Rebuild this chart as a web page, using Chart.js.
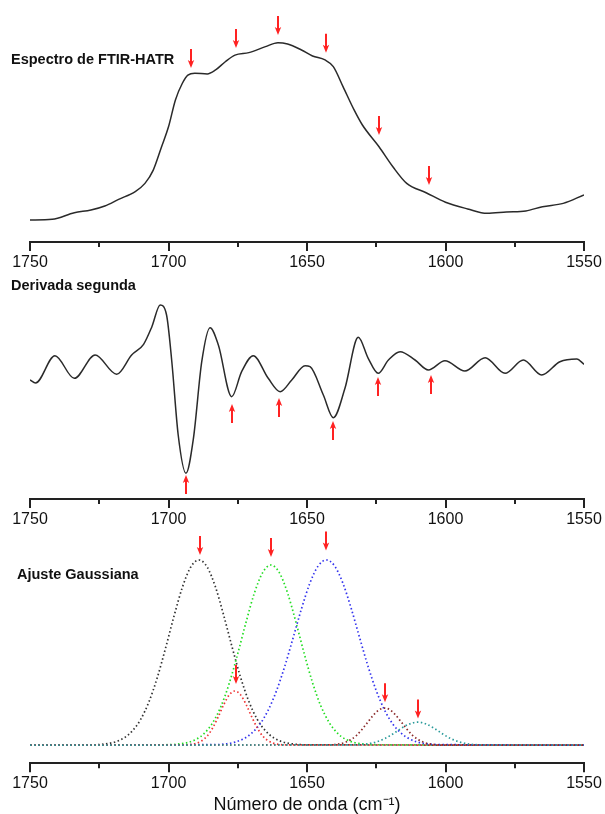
<!DOCTYPE html>
<html>
<head>
<meta charset="utf-8">
<script src="https://cdn.jsdelivr.net/npm/chart.js@4.4.1/dist/chart.umd.min.js"></script>
<style>
  html, body { margin: 0; padding: 0; background: #fff; overflow: hidden; }
  #wrap { position: relative; width: 605px; height: 814px; overflow: hidden; font-family: "Liberation Sans", Arial, sans-serif; }
  #wrap canvas { position: absolute; left: 0; }
  .panel-title { position: absolute; font-weight: bold; font-size: 14.5px; line-height: 16px; color: #111; white-space: nowrap; }
</style>
</head>
<body>
<div id="wrap">
  <canvas id="ftirChart" width="605" height="275" style="top:0px"></canvas>
  <canvas id="derivChart" width="605" height="258" style="top:275px"></canvas>
  <canvas id="gaussChart" width="605" height="296" style="top:520px"></canvas>
  <div class="panel-title" style="left:11px; top:51px">Espectro de FTIR-HATR</div>
  <div class="panel-title" style="left:11px; top:277px">Derivada segunda</div>
  <div class="panel-title" style="left:17px; top:566px">Ajuste Gaussiana</div>
</div>
<script>
// eje X (número de onda, cm-1)
const tickValues = [1750, 1725, 1700, 1675, 1650, 1625, 1600, 1575, 1550];

// espectro FTIR-HATR
const ftirWave = [1750, 1742, 1734, 1728, 1723, 1718, 1712, 1708.5, 1705.5, 1702.5,
  1700, 1697.5, 1695, 1693, 1690.5, 1686, 1683, 1679.5, 1676, 1671,
  1665, 1660.5, 1657, 1652, 1648, 1643.5, 1640.5, 1637, 1633, 1630,
  1624, 1619, 1614, 1607, 1600, 1592, 1585, 1578, 1571, 1565, 1557.5, 1550];
const ftirAbs = [0.099, 0.102, 0.132, 0.144, 0.162, 0.192, 0.227, 0.264, 0.324, 0.429,
  0.519, 0.640, 0.715, 0.752, 0.760, 0.757, 0.775, 0.812, 0.842, 0.853,
  0.880, 0.898, 0.892, 0.865, 0.838, 0.820, 0.790, 0.700, 0.595, 0.527,
  0.429, 0.339, 0.264, 0.222, 0.179, 0.149, 0.129, 0.135, 0.140, 0.159, 0.174, 0.212];
const ftirArrowWave = [1692, 1675.7, 1660.5, 1643, 1624, 1606];
const ftirArrowTip = [0.784, 0.874, 0.932, 0.853, 0.482, 0.257];

// derivada segunda
const derivWave = [1750, 1748, 1741, 1734, 1726.5, 1718.7, 1713.3, 1709, 1706, 1703,
  1700.7, 1698.8, 1696.5, 1693.7, 1691, 1688, 1685, 1682, 1677.2, 1673.6,
  1669.4, 1664, 1659.7, 1655.5, 1650.7, 1648.9, 1644.1, 1640.5, 1636.3, 1631.5,
  1627.9, 1624.3, 1620.6, 1616.4, 1611, 1606.2, 1600.2, 1593, 1585.7, 1578.5,
  1571.9, 1565.3, 1558.7, 1552.6, 1550];
const derivVal = [-0.15, -0.18, 0.093, -0.133, 0.10, -0.093, 0.10, 0.207, 0.383, 0.60,
  0.50, 0.033, -0.70, -1.083, -0.733, 0.033, 0.373, 0.20, -0.317, -0.067,
  0.093, -0.133, -0.267, -0.15, -0.007, -0.017, -0.30, -0.527, -0.233, 0.277,
  0.067, -0.083, 0.05, 0.133, 0.05, -0.05, 0.043, -0.06, 0.073, -0.083,
  0.05, -0.10, 0.033, 0.06, 0.007];
const derivArrowWave = [1693.7, 1677.2, 1660, 1640.7, 1624.3, 1605.3];
const derivArrowTip = [-1.10, -0.39, -0.33, -0.56, -0.12, -0.10];

// ajuste gaussiana (6 bandas)
const g1Wave = [1750, 1728, 1725, 1722, 1719, 1716, 1713, 1710, 1707, 1704, 1701, 1698, 1695, 1692,
  1689, 1686, 1683, 1680, 1677, 1674, 1671, 1668, 1665, 1662, 1659, 1656, 1653, 1650, 1550];
const g1Val = [0, 0.001, 0.003, 0.008, 0.018, 0.039, 0.077, 0.140, 0.236, 0.367, 0.527, 0.697, 0.852, 0.961,
  1.000, 0.961, 0.852, 0.697, 0.527, 0.367, 0.236, 0.140, 0.077, 0.039, 0.018, 0.008, 0.003, 0.001, 0];

const g2Wave = [1750, 1699, 1696, 1693, 1690, 1687, 1684, 1681, 1678, 1675, 1672, 1669, 1666,
  1663, 1660, 1657, 1654, 1651, 1648, 1645, 1642, 1639, 1636, 1633, 1630, 1627, 1550];
const g2Val = [0, 0.002, 0.006, 0.014, 0.031, 0.064, 0.122, 0.211, 0.337, 0.494, 0.664, 0.821, 0.932,
  0.973, 0.932, 0.821, 0.664, 0.494, 0.337, 0.211, 0.122, 0.064, 0.031, 0.014, 0.006, 0.002, 0];

const g3Wave = [1750, 1682, 1679, 1676, 1673, 1670, 1667, 1664, 1661, 1658, 1655, 1652, 1649, 1646,
  1643, 1640, 1637, 1634, 1631, 1628, 1625, 1622, 1619, 1616, 1613, 1610, 1607, 1604, 1550];
const g3Val = [0, 0.003, 0.007, 0.016, 0.033, 0.064, 0.113, 0.189, 0.294, 0.427, 0.580, 0.736, 0.873, 0.967,
  1.000, 0.967, 0.873, 0.736, 0.580, 0.427, 0.294, 0.189, 0.113, 0.064, 0.033, 0.016, 0.007, 0.003, 0];

const g4Wave = [1750, 1694, 1692, 1690, 1688, 1686, 1684, 1682, 1680, 1678,
  1676, 1674, 1672, 1670, 1668, 1666, 1664, 1662, 1660, 1658, 1550];
const g4Val = [0, 0.001, 0.003, 0.009, 0.023, 0.049, 0.094, 0.154, 0.220, 0.272,
  0.292, 0.272, 0.220, 0.154, 0.094, 0.049, 0.023, 0.009, 0.003, 0.001, 0];

const g5Wave = [1750, 1642, 1640, 1638, 1636, 1634, 1632, 1630, 1628, 1626, 1624,
  1622, 1620, 1618, 1616, 1614, 1612, 1610, 1608, 1606, 1604, 1602, 1550];
const g5Val = [0, 0.001, 0.003, 0.007, 0.016, 0.031, 0.054, 0.087, 0.125, 0.162, 0.190,
  0.200, 0.190, 0.162, 0.125, 0.087, 0.054, 0.031, 0.016, 0.007, 0.003, 0.001, 0];

const g6Wave = [1750, 1634, 1631, 1628, 1625, 1622, 1619, 1616, 1613,
  1610, 1607, 1604, 1601, 1598, 1595, 1592, 1589, 1586, 1550];
const g6Val = [0, 0.001, 0.002, 0.007, 0.017, 0.034, 0.060, 0.090, 0.114,
  0.124, 0.114, 0.090, 0.060, 0.034, 0.017, 0.007, 0.002, 0.001, 0];

const gaussArrowWave = [1688.5, 1675.5, 1663, 1643, 1622, 1610];
const gaussArrowTip = [1.027, 0.330, 1.016, 1.051, 0.232, 0.143];

Chart.defaults.font.family = '"Liberation Sans", Arial, sans-serif';
Chart.defaults.color = "#111";

function toPoints(xs, ys) {
  return xs.map((x, i) => ({ x: x, y: ys[i] }));
}

// marcas del eje (mayores cada 50, menores cada 25)
const axisTicks = {
  id: "axisTicks",
  afterDraw(chart) {
    const { ctx, chartArea, scales } = chart;
    ctx.save();
    ctx.strokeStyle = "#222";
    ctx.lineWidth = 2;
    tickValues.forEach(v => {
      const px = Math.round(scales.x.getPixelForValue(v));
      const len = (v % 50 === 0) ? 9 : 5;
      ctx.beginPath();
      ctx.moveTo(px, chartArea.bottom);
      ctx.lineTo(px, chartArea.bottom + len);
      ctx.stroke();
    });
    ctx.restore();
  }
};

// flechas rojas de los picos
const peakArrows = {
  id: "peakArrows",
  afterDatasetsDraw(chart, args, opts) {
    const { ctx, scales } = chart;
    const dir = opts.dir; // 1 = hacia abajo, -1 = hacia arriba
    ctx.save();
    ctx.strokeStyle = "#ff2222";
    ctx.fillStyle = "#ff2222";
    ctx.lineWidth = 2;
    opts.waves.forEach((w, i) => {
      const px = Math.round(scales.x.getPixelForValue(w));
      const tip = scales.y.getPixelForValue(opts.tips[i]);
      const tail = tip - dir * 19;
      ctx.beginPath();
      ctx.moveTo(px, tail);
      ctx.lineTo(px, tip - dir * 4);
      ctx.stroke();
      ctx.beginPath();
      ctx.moveTo(px, tip);
      ctx.lineTo(px - 3.2, tip - dir * 8);
      ctx.lineTo(px, tip - dir * 6);
      ctx.lineTo(px + 3.2, tip - dir * 8);
      ctx.closePath();
      ctx.fill();
    });
    ctx.restore();
  }
};

function makeChart(id, datasets, yMin, yMax, padding, arrows, axisTitle) {
  const ctx = document.getElementById(id).getContext("2d");
  return new Chart(ctx, {
    type: "line",
    data: { datasets },
    options: {
      responsive: false,
      animation: false,
      layout: { padding },
      elements: { point: { radius: 0 } },
      plugins: {
        legend: { display: false },
        tooltip: { enabled: false },
        peakArrows: arrows
      },
      scales: {
        x: {
          type: "linear",
          reverse: true,
          min: 1550,
          max: 1750,
          grid: { display: false, drawTicks: true, tickLength: 11 },
          border: { display: true, color: "#222", width: 2 },
          ticks: {
            stepSize: 50,
            padding: 0,
            maxRotation: 0,
            autoSkip: false,
            color: "#111",
            font: { size: 16 },
            callback: v => String(v)
          },
          title: axisTitle
            ? { display: true, text: axisTitle, color: "#111", font: { size: 18 }, padding: { top: 1, bottom: 0 } }
            : { display: false }
        },
        y: { display: false, min: yMin, max: yMax }
      }
    },
    plugins: [axisTicks, peakArrows]
  });
}

function solidLine(xs, ys) {
  return {
    data: toPoints(xs, ys),
    borderColor: "#2a2a2a",
    borderWidth: 1.5,
    cubicInterpolationMode: "monotone",
    fill: false
  };
}

function dottedLine(xs, ys, color) {
  return {
    data: toPoints(xs, ys),
    borderColor: color,
    borderWidth: 1.7,
    borderDash: [1.5, 2.5],
    cubicInterpolationMode: "monotone",
    fill: false
  };
}

makeChart("ftirChart",
  [solidLine(ftirWave, ftirAbs)],
  0, 1,
  { left: 30, right: 21, top: 20, bottom: 2.8 },
  { waves: ftirArrowWave, tips: ftirArrowTip, dir: 1 },
  null);

makeChart("derivChart",
  [solidLine(derivWave, derivVal)],
  -1.34, 0.70,
  { left: 30, right: 21, top: 20, bottom: 3.8 },
  { waves: derivArrowWave, tips: derivArrowTip, dir: -1 },
  null);

makeChart("gaussChart",
  [
    dottedLine(g6Wave, g6Val, "#2a9a9a"),
    dottedLine(g5Wave, g5Val, "#8b2a2a"),
    dottedLine(g4Wave, g4Val, "#ee3333"),
    dottedLine(g3Wave, g3Val, "#3333ee"),
    dottedLine(g2Wave, g2Val, "#22dd22"),
    dottedLine(g1Wave, g1Val, "#333333")
  ],
  -0.098, 1.108,
  { left: 30, right: 21, top: 20, bottom: 0 },
  { waves: gaussArrowWave, tips: gaussArrowTip, dir: 1 },
  "Número de onda (cm⁻¹)");
</script>
</body>
</html>
